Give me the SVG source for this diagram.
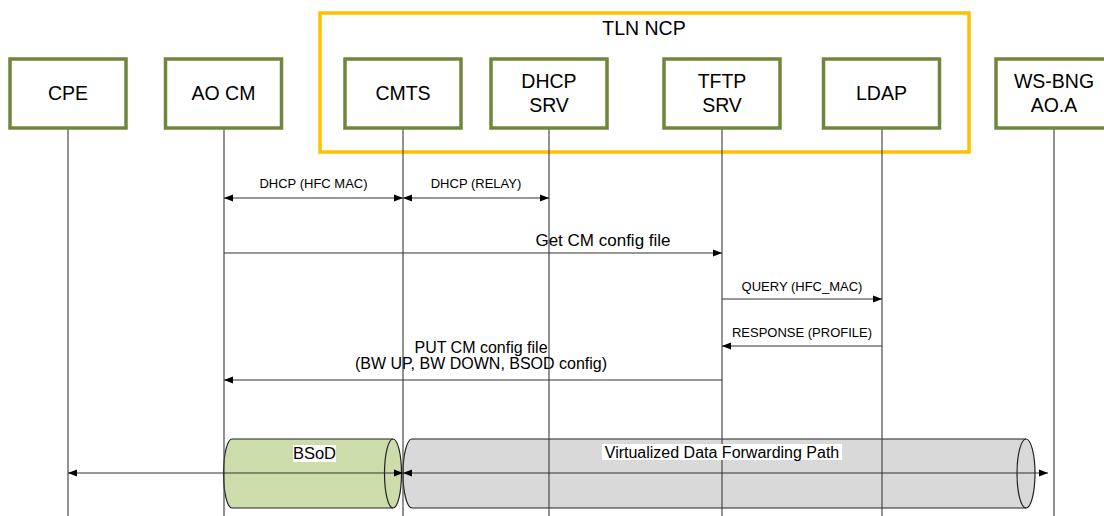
<svg xmlns="http://www.w3.org/2000/svg" width="1104" height="516" viewBox="0 0 1104 516">
<style>
.node{fill:#fff;stroke:#6F873C;stroke-width:3.5}
.lbl{font-family:"Liberation Sans",Arial,sans-serif;font-size:19.5px;fill:#000;text-anchor:middle}
.sm{font-family:"Liberation Sans",Arial,sans-serif;font-size:13px;fill:#000;text-anchor:middle}
.md{font-family:"Liberation Sans",Arial,sans-serif;font-size:16px;fill:#000;text-anchor:middle}
.life{stroke:#4a4a4a;stroke-width:1.2;fill:none}
.msg{stroke:#333;stroke-width:1.2;fill:none}
.cyl{stroke:#222;stroke-width:1.2}
</style>
<defs>
<marker id="ah" markerUnits="userSpaceOnUse" markerWidth="10" markerHeight="8" refX="9" refY="4" orient="auto-start-reverse">
<path d="M0,0.5 L9,4 L0,7.5 z" fill="#000"/>
</marker>
</defs>

<g id="tln-ncp">
<rect x="320" y="13" width="649" height="139" fill="none" stroke="#FFC000" stroke-width="3.5"/>
<text class="lbl" x="644" y="35">TLN NCP</text>
</g>

<g id="paths">
<g id="bsod">
<path class="cyl" fill="#CCDCAA" d="M232,439 H393 A8.5,34.5 0 0 1 393,508 H232 A8.5,34.5 0 0 1 232,439 Z"/>
<path class="cyl" fill="none" d="M393,439 A8.5,34.5 0 0 0 393,508"/>
</g>
<g id="vdfp">
<path class="cyl" fill="#D9D9D9" d="M412,439 H1026 A9,34.5 0 0 1 1026,508 H412 A9,34.5 0 0 1 412,439 Z"/>
<path class="cyl" fill="none" d="M1026,439 A9,34.5 0 0 0 1026,508"/>
</g>
</g>

<g id="connectors">
<g id="lifelines">
<line class="life" x1="68" y1="128" x2="68" y2="516"/>
<line class="life" x1="224" y1="128" x2="224" y2="516"/>
<line class="life" x1="403" y1="128" x2="403" y2="516"/>
<line class="life" x1="549" y1="128" x2="549" y2="516"/>
<line class="life" x1="722" y1="128" x2="722" y2="516"/>
<line class="life" x1="882" y1="128" x2="882" y2="516"/>
<line class="life" x1="1054" y1="128" x2="1054" y2="516"/>
</g>
<line class="msg" x1="224" y1="198" x2="403" y2="198" marker-start="url(#ah)" marker-end="url(#ah)"/>
<line class="msg" x1="403" y1="198" x2="549" y2="198" marker-start="url(#ah)" marker-end="url(#ah)"/>
<line class="msg" x1="224" y1="253" x2="722" y2="253" marker-end="url(#ah)"/>
<line class="msg" x1="722" y1="299" x2="882" y2="299" marker-end="url(#ah)"/>
<line class="msg" x1="882" y1="346" x2="722" y2="346" marker-end="url(#ah)"/>
<line class="msg" x1="722" y1="380" x2="224" y2="380" marker-end="url(#ah)"/>
<line class="msg" x1="68" y1="473" x2="403" y2="473" marker-start="url(#ah)" marker-end="url(#ah)"/>
<line class="msg" x1="403" y1="473" x2="1048" y2="473" marker-start="url(#ah)" marker-end="url(#ah)"/>
</g>

<g id="labels">
<text class="sm" x="313.5" y="188">DHCP (HFC MAC)</text>
<text class="sm" x="476" y="188">DHCP (RELAY)</text>
<text class="md" x="603" y="246" style="font-size:17px">Get CM config file</text>
<text class="sm" x="802" y="291">QUERY (HFC_MAC)</text>
<text class="sm" x="802" y="337">RESPONSE (PROFILE)</text>
<text class="md" x="481" y="353">PUT CM config file</text>
<text class="md" x="481" y="369">(BW UP, BW DOWN, BSOD config)</text>
<rect x="293" y="445" width="43" height="17" fill="#fff"/>
<text class="md" x="314.5" y="458.5" style="font-size:16.5px">BSoD</text>
<rect x="602" y="444" width="240" height="16" fill="#fff"/>
<text class="md" x="722" y="458">Virtualized Data Forwarding Path</text>
</g>

<g id="cpe"><rect class="node" x="10" y="59" width="116" height="69"/><text class="lbl" x="68" y="100">CPE</text></g>
<g id="ao-cm"><rect class="node" x="165.5" y="59" width="116" height="69"/><text class="lbl" x="223.5" y="100">AO CM</text></g>
<g id="cmts"><rect class="node" x="345" y="59" width="116" height="69"/><text class="lbl" x="403" y="100">CMTS</text></g>
<g id="dhcp-srv"><rect class="node" x="491" y="59" width="116" height="69"/><text class="lbl" x="549" y="88">DHCP</text><text class="lbl" x="549" y="112">SRV</text></g>
<g id="tftp-srv"><rect class="node" x="664" y="59" width="116" height="69"/><text class="lbl" x="722" y="88">TFTP</text><text class="lbl" x="722" y="112">SRV</text></g>
<g id="ldap"><rect class="node" x="823.5" y="59" width="116" height="69"/><text class="lbl" x="881.5" y="100">LDAP</text></g>
<g id="ws-bng"><rect class="node" x="996" y="59" width="116" height="69"/><text class="lbl" x="1054" y="88">WS-BNG</text><text class="lbl" x="1054" y="112">AO.A</text></g>
</svg>
